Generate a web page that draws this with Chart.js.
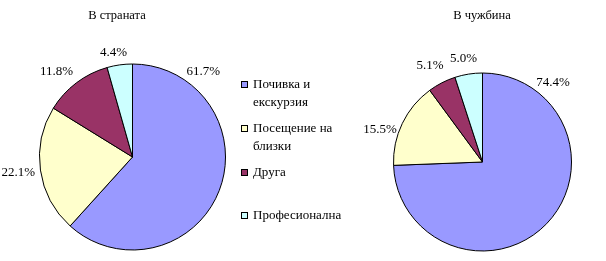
<!DOCTYPE html>
<html>
<head>
<meta charset="utf-8">
<script src="https://cdn.jsdelivr.net/npm/chart.js@4/dist/chart.umd.min.js"></script>
<style>
  html, body { margin: 0; padding: 0; background: #fff; }
  #wrap { position: relative; width: 606px; height: 261px; overflow: hidden; font-family: "Liberation Serif", "Times New Roman", serif; font-size: 12px; color: #000; }
  canvas { position: absolute; left: 0; top: 0; }
  .title { position: absolute; top: 7px; width: 140px; text-align: center; font-size: 12.5px; line-height: 16px; }
  #legend { position: absolute; left: 241px; top: 0; }
  .item { position: absolute; left: 0; display: flex; align-items: flex-start; }
  .sw { width: 5px; height: 5px; border: 1px solid #000; margin-top: 6px; margin-right: 5px; flex: none; }
  .lt { width: 100px; line-height: 18px; font-size: 13px; }
</style>
</head>
<body>
<div id="wrap">
  <canvas id="c1" width="606" height="261"></canvas>
  <canvas id="c2" width="606" height="261"></canvas>
  <div class="title" id="t1" style="left:47px;"></div>
  <div class="title" id="t2" style="left:412px;"></div>
  <div id="legend"></div>
</div>
<script>
// ---- data ----
const categories = ['Почивка и екскурзия', 'Посещение на близки', 'Друга', 'Професионална'];
const titles = ['В страната', 'В чужбина'];
const domesticValues = [61.7, 22.1, 11.8, 4.4];
const abroadValues = [74.4, 15.5, 5.1, 5.0];

// ---- style ----
const colors = ['#9999FF', '#FFFFCC', '#993366', '#CCFFFF'];
const FONT = '13px "Liberation Serif", "Times New Roman", serif';

document.getElementById('t1').textContent = titles[0];
document.getElementById('t2').textContent = titles[1];

// legend (HTML, built from categories)
const legendTops = [75, 119, 163, 206];
const legend = document.getElementById('legend');
categories.forEach((c, i) => {
  const it = document.createElement('div');
  it.className = 'item';
  it.style.top = legendTops[i] + 'px';
  const sw = document.createElement('div');
  sw.className = 'sw';
  sw.style.background = colors[i];
  const t = document.createElement('div');
  t.className = 'lt';
  t.textContent = c;
  it.appendChild(sw); it.appendChild(t);
  legend.appendChild(it);
});

// label placement plugin: angle (deg, clockwise from 12 o'clock) and distance from centre
const pieLabels = {
  id: 'pieLabels',
  afterDatasetsDraw(chart) {
    const opt = chart.options.plugins.pieLabels;
    const meta = chart.getDatasetMeta(0);
    const data = chart.data.datasets[0].data;
    const ctx = chart.ctx;
    ctx.save();
    ctx.font = FONT;
    ctx.fillStyle = '#000';
    ctx.textAlign = 'center';
    ctx.textBaseline = 'middle';
    meta.data.forEach((arc, i) => {
      const a = opt.angles[i] * Math.PI / 180;
      const d = opt.dist[i];
      const x = arc.x + d * Math.sin(a);
      const y = arc.y - d * Math.cos(a);
      ctx.fillText(data[i].toFixed(1) + '%', x, y);
    });
    ctx.restore();
  }
};

function makePie(id, values, padding, radius, angles, dist) {
  return new Chart(document.getElementById(id), {
    type: 'pie',
    data: {
      labels: categories,
      datasets: [{
        data: values,
        backgroundColor: colors,
        borderColor: '#000',
        borderWidth: 1
      }]
    },
    options: {
      responsive: false,
      animation: false,
      radius: radius,
      layout: { padding: padding },
      plugins: {
        legend: { display: false },
        tooltip: { enabled: false },
        title: { display: false },
        pieLabels: { angles: angles, dist: dist }
      }
    },
    plugins: [pieLabels]
  });
}

makePie('c1', domesticValues,
  { left: 39.5, right: 380.5, top: 64, bottom: 11 }, 93,
  [39.7, 262.2, -41.7, -10.3], [111, 115.3, 114.2, 106.2]);
makePie('c2', abroadValues,
  { left: 393.5, right: 34.5, top: 73, bottom: 10 }, 89,
  [41.6, -72.3, -28.7, -10.4], [106.1, 107.6, 109.4, 105.4]);
</script>
</body>
</html>
